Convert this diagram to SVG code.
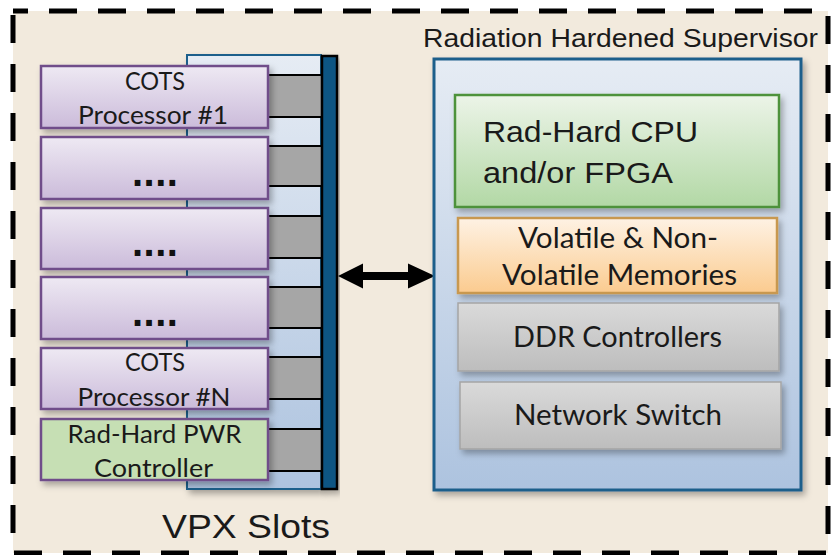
<svg xmlns="http://www.w3.org/2000/svg" width="831" height="555" viewBox="0 0 831 555">
<defs>
<linearGradient id="gPurple" x1="0" y1="0" x2="0" y2="1"><stop offset="0" stop-color="#EEE9F3"/><stop offset="1" stop-color="#CBBBDA"/></linearGradient>
<linearGradient id="gBlue" x1="0" y1="0" x2="0" y2="1"><stop offset="0" stop-color="#E6ECF4"/><stop offset="1" stop-color="#ADC3DF"/></linearGradient>
<linearGradient id="gGreen" x1="0" y1="0" x2="0" y2="1"><stop offset="0" stop-color="#ECF4E8"/><stop offset="1" stop-color="#B2D8A5"/></linearGradient>
<linearGradient id="gOrange" x1="0" y1="0" x2="0" y2="1"><stop offset="0" stop-color="#FEF2E4"/><stop offset="1" stop-color="#FBCB8F"/></linearGradient>
<linearGradient id="gGray" x1="0" y1="0" x2="0" y2="1"><stop offset="0" stop-color="#DADADA"/><stop offset="1" stop-color="#BDBDBD"/></linearGradient>
<filter id="sh" x="-10%" y="-10%" width="130%" height="130%"><feDropShadow dx="3" dy="4" stdDeviation="3" flood-color="#000" flood-opacity="0.3"/></filter>
</defs>
<style>
.arial{font-family:"Liberation Sans",Arial,sans-serif;fill:#1a1a1a}
.cal{font-family:Lato,"Liberation Sans",sans-serif;fill:#1a1a1a}
.card{fill:url(#gPurple);stroke:#6F4E8A;stroke-width:2.5}
.stub{fill:#A6A6A6;stroke:none}
.sline{stroke:#000;stroke-width:2}
.dots{font-family:"Liberation Sans",Arial,sans-serif;font-weight:bold;font-size:40px;fill:#111}
</style>
<rect x="0" y="0" width="831" height="555" fill="#FFFFFF"/>
<rect id="frame" x="13" y="11" width="815" height="542" fill="#F2EADD" stroke="#000" stroke-width="5" stroke-dasharray="28 21" stroke-dashoffset="13"/>

<g id="vpx-backplane">
<rect x="187" y="55" width="134" height="434" fill="url(#gBlue)" stroke="#1F5F8B" stroke-width="2" filter="url(#sh)"/>
<g id="stubs">
<rect class="stub" x="268" y="75" width="53" height="42"/>
<line class="sline" x1="268" y1="75" x2="321" y2="75"/><line class="sline" x1="268" y1="117" x2="321" y2="117"/>
<rect class="stub" x="268" y="146" width="53" height="40"/>
<line class="sline" x1="268" y1="146" x2="321" y2="146"/><line class="sline" x1="268" y1="186" x2="321" y2="186"/>
<rect class="stub" x="268" y="216" width="53" height="42"/>
<line class="sline" x1="268" y1="216" x2="321" y2="216"/><line class="sline" x1="268" y1="258" x2="321" y2="258"/>
<rect class="stub" x="268" y="287" width="53" height="41"/>
<line class="sline" x1="268" y1="287" x2="321" y2="287"/><line class="sline" x1="268" y1="328" x2="321" y2="328"/>
<rect class="stub" x="268" y="357" width="53" height="42"/>
<line class="sline" x1="268" y1="357" x2="321" y2="357"/><line class="sline" x1="268" y1="399" x2="321" y2="399"/>
<rect class="stub" x="268" y="429" width="53" height="42"/>
<line class="sline" x1="268" y1="429" x2="321" y2="429"/><line class="sline" x1="268" y1="471" x2="321" y2="471"/>
</g>
<rect x="322" y="56" width="15" height="433" fill="#0C5483" stroke="#000" stroke-width="2.5" filter="url(#sh)"/>
</g>

<g id="card1">
<rect class="card" x="41" y="66" width="227" height="62" filter="url(#sh)"/>
<text class="cal" x="155" y="90" font-size="25" text-anchor="middle" textLength="60" lengthAdjust="spacingAndGlyphs">COTS</text>
<text class="cal" x="153" y="124" font-size="25" text-anchor="middle" textLength="150" lengthAdjust="spacingAndGlyphs">Processor #1</text>
</g>
<g id="card2">
<rect class="card" x="41" y="137" width="227" height="62" filter="url(#sh)"/>
<text class="dots" x="132" y="186" letter-spacing="0.5">....</text>
</g>
<g id="card3">
<rect class="card" x="41" y="208" width="227" height="61" filter="url(#sh)"/>
<text class="dots" x="132" y="256" letter-spacing="0.5">....</text>
</g>
<g id="card4">
<rect class="card" x="41" y="277" width="227" height="62" filter="url(#sh)"/>
<text class="dots" x="132" y="326" letter-spacing="0.5">....</text>
</g>
<g id="card5">
<rect class="card" x="41" y="348" width="227" height="61" filter="url(#sh)"/>
<text class="cal" x="155" y="371" font-size="25" text-anchor="middle" textLength="60" lengthAdjust="spacingAndGlyphs">COTS</text>
<text class="cal" x="154" y="406" font-size="25" text-anchor="middle" textLength="153" lengthAdjust="spacingAndGlyphs">Processor #N</text>
</g>
<g id="card6">
<rect x="41" y="419" width="227" height="61" fill="#C6DFB4" stroke="#6F4E8A" stroke-width="2.5" filter="url(#sh)"/>
<text class="cal" x="154.5" y="443" font-size="25" text-anchor="middle" textLength="174" lengthAdjust="spacingAndGlyphs">Rad-Hard PWR</text>
<text class="cal" x="153.5" y="477" font-size="25" text-anchor="middle" textLength="119" lengthAdjust="spacingAndGlyphs">Controller</text>
</g>

<text id="vpx-label" class="arial" x="162" y="538" font-size="34" textLength="168" lengthAdjust="spacingAndGlyphs">VPX Slots</text>

<g id="connectors">
<polygon points="338,276 363,263.5 363,272 408,272 408,263.5 435,276 408,288.5 408,280 363,280 363,288.5" fill="#000"/>
</g>

<text id="supervisor-label" class="arial" x="423" y="47" font-size="25" textLength="395" lengthAdjust="spacingAndGlyphs">Radiation  Hardened  Supervisor</text>

<g id="supervisor">
<rect x="434" y="59" width="367" height="431" fill="url(#gBlue)" stroke="#1F5F8B" stroke-width="3" filter="url(#sh)"/>
</g>
<g id="cpu">
<rect x="455" y="95" width="324" height="112" fill="url(#gGreen)" stroke="#4E923B" stroke-width="2.5" filter="url(#sh)"/>
<text class="arial" x="483" y="142" font-size="30" textLength="215" lengthAdjust="spacingAndGlyphs">Rad-Hard CPU</text>
<text class="arial" x="483" y="183" font-size="30" textLength="190" lengthAdjust="spacingAndGlyphs">and/or FPGA</text>
</g>
<g id="memories">
<rect x="458" y="218" width="319" height="75" fill="url(#gOrange)" stroke="#C8984F" stroke-width="2.5" filter="url(#sh)"/>
<text class="cal" x="618" y="248" font-size="29" text-anchor="middle" textLength="200" lengthAdjust="spacingAndGlyphs">Volatile &amp; Non-</text>
<text class="cal" x="619.5" y="285" font-size="29" text-anchor="middle" textLength="235" lengthAdjust="spacingAndGlyphs">Volatile Memories</text>
</g>
<g id="ddr">
<rect x="458" y="303" width="321" height="68" fill="url(#gGray)" stroke="#A5A5A5" stroke-width="1.5" filter="url(#sh)"/>
<text class="cal" x="617.5" y="347" font-size="29" text-anchor="middle" textLength="209" lengthAdjust="spacingAndGlyphs">DDR Controllers</text>
</g>
<g id="switch">
<rect x="460" y="382" width="321" height="67" fill="url(#gGray)" stroke="#A5A5A5" stroke-width="1.5" filter="url(#sh)"/>
<text class="cal" x="618" y="425" font-size="29" text-anchor="middle" textLength="208" lengthAdjust="spacingAndGlyphs">Network Switch</text>
</g>
</svg>
